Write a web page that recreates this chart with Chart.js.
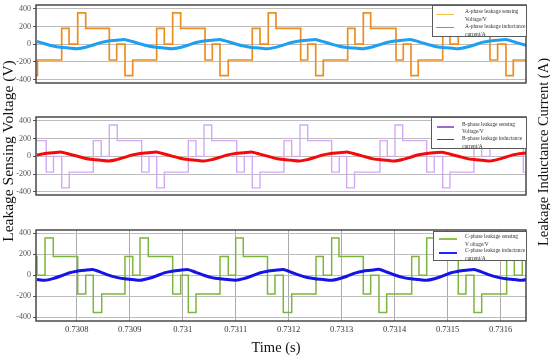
<!DOCTYPE html>
<html>
<head>
<meta charset="utf-8">
<script src="https://cdn.jsdelivr.net/npm/chart.js@4.4.1/dist/chart.umd.min.js"></script>
<style>
html,body{margin:0;padding:0;background:#fff;}
#wrap{position:relative;width:550px;height:357px;overflow:hidden;background:#fff;font-family:'Liberation Serif','Times New Roman',serif;}
canvas{position:absolute;left:0;}
.title{position:absolute;white-space:nowrap;color:#111;text-align:center;}
.vtitle{width:240px;height:18px;line-height:18px;transform:rotate(-90deg);transform-origin:50% 50%;}
.legend{position:absolute;background:#fff;border:1px solid #5a5a5a;box-sizing:border-box;}
.legend .sw{position:absolute;height:1.6px;}
.legend .tx{position:absolute;font-size:5.4px;line-height:7px;height:7px;color:#333;white-space:nowrap;}
</style>
</head>
<body>
<div id="wrap">
  <canvas id="cA" width="550" height="118" style="top:-5px"></canvas>
  <canvas id="cB" width="550" height="118" style="top:107px"></canvas>
  <canvas id="cC" width="550" height="121" style="top:220px"></canvas>

  <div class="title vtitle" style="left:-112px;top:142px;font-size:15.5px;">Leakage Sensing Voltage (V)</div>
  <div class="title vtitle" style="left:423px;top:143px;font-size:14.5px;">Leakage Inductance Current (A)</div>
  <div class="title" style="left:216px;top:338px;width:120px;font-size:14.5px;line-height:18px;">Time (s)</div>

  <div class="legend" style="left:432px;top:5px;width:95px;height:32px;">
    <div class="sw" style="left:3px;top:7.5px;width:18px;background:#f6c449;"></div>
    <div class="sw" style="left:3px;top:20.5px;width:18px;background:#39a6f0;"></div>
    <div class="tx" style="left:32px;top:2px;">A-phase leakage sensing</div>
    <div class="tx" style="left:32px;top:9.5px;">Voltage/V</div>
    <div class="tx" style="left:32px;top:16.5px;">A-phase leakage inductance</div>
    <div class="tx" style="left:32px;top:24.5px;">current/A</div>
  </div>
  <div class="legend" style="left:431px;top:117px;width:96px;height:32px;">
    <div class="sw" style="left:5px;top:8px;width:17px;background:#9a6bcc;"></div>
    <div class="sw" style="left:5px;top:20.5px;width:17px;background:#ff0000;"></div>
    <div class="tx" style="left:30px;top:2.5px;">B-phase leakage sensing</div>
    <div class="tx" style="left:30px;top:9.5px;">Voltage/V</div>
    <div class="tx" style="left:30px;top:16.5px;">B-phase leakage inductance</div>
    <div class="tx" style="left:30px;top:24.5px;">current/A</div>
  </div>
  <div class="legend" style="left:433px;top:231px;width:94px;height:30px;">
    <div class="sw" style="left:5px;top:6px;width:18px;background:#8cc34f;"></div>
    <div class="sw" style="left:5px;top:20px;width:18px;background:#2323ff;"></div>
    <div class="tx" style="left:31px;top:0.5px;">C-phase leakage sensing</div>
    <div class="tx" style="left:31px;top:8.5px;">V oltage/V</div>
    <div class="tx" style="left:31px;top:15px;">C-phase leakage inductance</div>
    <div class="tx" style="left:31px;top:22.5px;">current/A</div>
  </div>
</div>
<script>
// ---- axis ticks ----
const xTickValues = [0.7308, 0.7309, 0.7310, 0.7311, 0.7312, 0.7313, 0.7314, 0.7315, 0.7316];
const xTickLabels = ['0.7308', '0.7309', '0.731', '0.7311', '0.7312', '0.7313', '0.7314', '0.7315', '0.7316'];
const yTickValues = [-400, -200, 0, 200, 400];
const yTickLabels = ['-400', '-200', '0', '200', '400'];
const xMin = 0.7307232, xMax = 0.7316478;

// ---- A-phase leakage sensing voltage (step switch times, level held from each time) ----
const vATimes = [0.7307232, 0.7307260, 0.7307717, 0.7307855, 0.7308019, 0.7308170, 0.7308615, 0.7308755, 0.7308911, 0.7309057, 0.7309509, 0.7309653, 0.7309811, 0.7309962, 0.7310421, 0.7310559, 0.7310704, 0.7310860, 0.7311313, 0.7311459, 0.7311615, 0.7311760, 0.7312226, 0.7312359, 0.7312510, 0.7312653, 0.7313113, 0.7313251, 0.7313408, 0.7313547, 0.7314025, 0.7314162, 0.7314308, 0.7314445, 0.7314906, 0.7315043, 0.7315200, 0.7315345, 0.7315798, 0.7315943, 0.7316100, 0.7316238, 0.7316477];
const vAValues = [-355, -178, 178, 0, 355, 178, -178, 0, -355, -178, 178, 0, 355, 178, -178, 0, -355, -178, 178, 0, 355, 178, -178, 0, -355, -178, 178, 0, 355, 178, -178, 0, -355, -178, 178, 0, 355, 178, -178, 0, -355, -178, -178];

// ---- B-phase leakage sensing voltage ----
const vBTimes = [0.7307232, 0.7307425, 0.7307562, 0.7307717, 0.7307860, 0.7308313, 0.7308462, 0.7308615, 0.7308766, 0.7309226, 0.7309364, 0.7309509, 0.7309653, 0.7310106, 0.7310251, 0.7310402, 0.7310547, 0.7311019, 0.7311162, 0.7311313, 0.7311459, 0.7311911, 0.7312057, 0.7312213, 0.7312359, 0.7312811, 0.7312955, 0.7313094, 0.7313242, 0.7313723, 0.7313860, 0.7314006, 0.7314151, 0.7314604, 0.7314747, 0.7314906, 0.7315043, 0.7315496, 0.7315642, 0.7315798, 0.7315943, 0.7316427, 0.7316477];
const vBValues = [178, -178, 0, -355, -178, 178, 0, 355, 178, -178, 0, -355, -178, 178, 0, 355, 178, -178, 0, -355, -178, 178, 0, 355, 178, -178, 0, -355, -178, 178, 0, 355, 178, -178, 0, -355, -178, 178, 0, 355, 178, -178, -178];

// ---- C-phase leakage sensing voltage ----
const vCTimes = [0.7307232, 0.7307251, 0.7307402, 0.7307558, 0.7308019, 0.7308170, 0.7308313, 0.7308472, 0.7308911, 0.7309057, 0.7309194, 0.7309351, 0.7309811, 0.7309962, 0.7310106, 0.7310251, 0.7310704, 0.7310860, 0.7311000, 0.7311143, 0.7311600, 0.7311742, 0.7311898, 0.7312057, 0.7312515, 0.7312653, 0.7312811, 0.7312949, 0.7313408, 0.7313547, 0.7313704, 0.7313849, 0.7314321, 0.7314459, 0.7314604, 0.7314760, 0.7315200, 0.7315345, 0.7315496, 0.7315642, 0.7316113, 0.7316257, 0.7316408, 0.7316477];
const vCValues = [178, 0, 355, 178, -178, 0, -355, -178, 178, 0, 355, 178, -178, 0, -355, -178, 178, 0, 355, 178, -178, 0, -355, -178, 178, 0, 355, 178, -178, 0, -355, -178, 178, 0, 355, 178, -178, 0, -355, -178, 178, 0, 355, 355];

// ---- leakage inductance currents (sampled times shared by all phases) ----
const iTimes = [0.730725, 0.73074, 0.730755, 0.73077, 0.730785, 0.7308, 0.730815, 0.73083, 0.730845, 0.73086, 0.730875, 0.73089, 0.730905, 0.73092, 0.730935, 0.73095, 0.730965, 0.73098, 0.730995, 0.73101, 0.731025, 0.73104, 0.731055, 0.73107, 0.731085, 0.7311, 0.731115, 0.73113, 0.731145, 0.73116, 0.731175, 0.73119, 0.731205, 0.73122, 0.731235, 0.73125, 0.731265, 0.73128, 0.731295, 0.73131, 0.731325, 0.73134, 0.731355, 0.73137, 0.731385, 0.7314, 0.731415, 0.73143, 0.731445, 0.73146, 0.731475, 0.73149, 0.731505, 0.73152, 0.731535, 0.73155, 0.731565, 0.73158, 0.731595, 0.73161, 0.731625, 0.73164, 0.731655];
const iAValues = [31, 5, -20, -35, -43, -51, -37, -11, 18, 37, 44, 54, 30, 4, -21, -35, -43, -51, -37, -11, 19, 37, 44, 54, 30, 3, -21, -36, -43, -52, -36, -10, 19, 37, 44, 54, 29, 3, -22, -36, -44, -52, -35, -9, 20, 37, 45, 53, 28, 2, -22, -36, -43, -52, -35, -9, 21, 37, 45, 52, 28, 1, -22];
const iBValues = [16, 33, 40, 49, 27, 4, -21, -35, -43, -51, -37, -11, 17, 33, 40, 49, 27, 3, -21, -36, -43, -52, -36, -10, 17, 33, 40, 49, 26, 3, -22, -36, -44, -52, -36, -10, 17, 33, 40, 49, 27, 3, -22, -36, -43, -52, -35, -9, 18, 33, 41, 48, 25, 2, -22, -36, -43, -52, -34, -7, 20, 33, 41];
const iCValues = [-40, -48, -32, -7, 22, 39, 48, 55, 30, 1, -20, -33, -41, -48, -31, -7, 23, 39, 48, 54, 28, 0, -22, -34, -41, -47, -32, -7, 22, 39, 48, 55, 29, 1, -21, -33, -41, -48, -33, -9, 20, 39, 47, 57, 31, 3, -20, -33, -41, -48, -33, -8, 22, 39, 48, 55, 30, 1, -20, -33, -40, -48, -33];

const pts = (ts, vs) => ts.map((t, i) => ({x: t, y: vs[i]}));

const framePlugin = {
  id: 'frame',
  afterDatasetsDraw(chart) {
    const {ctx, chartArea: a} = chart;
    ctx.save();
    ctx.strokeStyle = '#3c3c3c';
    ctx.lineWidth = 1.4;
    ctx.strokeRect(a.left, a.top, a.right - a.left, a.bottom - a.top);
    ctx.restore();
  }
};

function makePanel(id, vLabel, vData, vColor, vWidth, iLabel, iData, iColor, yMin, yMax, showX) {
  return new Chart(document.getElementById(id), {
    type: 'line',
    data: {
      datasets: [
        {label: vLabel, data: vData, stepped: true, borderColor: vColor, borderWidth: vWidth, pointRadius: 0, fill: false, order: 1},
        {label: iLabel, data: iData, borderColor: iColor, borderWidth: 3, pointRadius: 0, fill: false, tension: 0.2, order: 0}
      ]
    },
    options: {
      responsive: false, animation: false, events: [],
      layout: {padding: {left: 0, right: 24, top: 10, bottom: showX ? 0 : 10}},
      plugins: {legend: {display: false}, tooltip: {enabled: false}},
      scales: {
        x: {
          type: 'linear', min: xMin, max: xMax, display: showX,
          afterBuildTicks: s => { s.ticks = xTickValues.map(v => ({value: v})); },
          afterFit: s => { s.height = 20; },
          grid: {color: '#ababab', lineWidth: 1, drawTicks: false},
          border: {display: false},
          ticks: {padding: 4, color: '#333', maxRotation: 0, autoSkip: false,
                  font: {family: 'Liberation Serif', size: 8.5},
                  callback: (v, i) => xTickLabels[i]}
        },
        y: {
          min: yMin, max: yMax,
          afterBuildTicks: s => { s.ticks = yTickValues.map(v => ({value: v})); },
          afterFit: s => { s.width = 36; },
          grid: {color: '#bdbdbd', lineWidth: 1, drawTicks: true, tickLength: 3, tickColor: '#555'},
          border: {display: false},
          ticks: {padding: 2, color: '#555', autoSkip: false,
                  font: {family: 'Liberation Serif', size: 8},
                  callback: (v, i) => yTickLabels[i]}
        }
      }
    },
    plugins: [framePlugin]
  });
}

makePanel('cA', 'A-phase leakage sensing Voltage/V', pts(vATimes, vAValues), '#ee8e1f', 1.7,
          'A-phase leakage inductance current/A', pts(iTimes, iAValues), '#1f9ff0', -438, 443, false);
makePanel('cB', 'B-phase leakage sensing Voltage/V', pts(vBTimes, vBValues), '#d3a9f7', 1.4,
          'B-phase leakage inductance current/A', pts(iTimes, iBValues), '#f50a0a', -436, 445, false);
makePanel('cC', 'C-phase leakage sensing Voltage/V', pts(vCTimes, vCValues), '#7cb63a', 1.5,
          'C-phase leakage inductance current/A', pts(iTimes, iCValues), '#1414e6', -435, 431, true);
</script>
</body>
</html>
